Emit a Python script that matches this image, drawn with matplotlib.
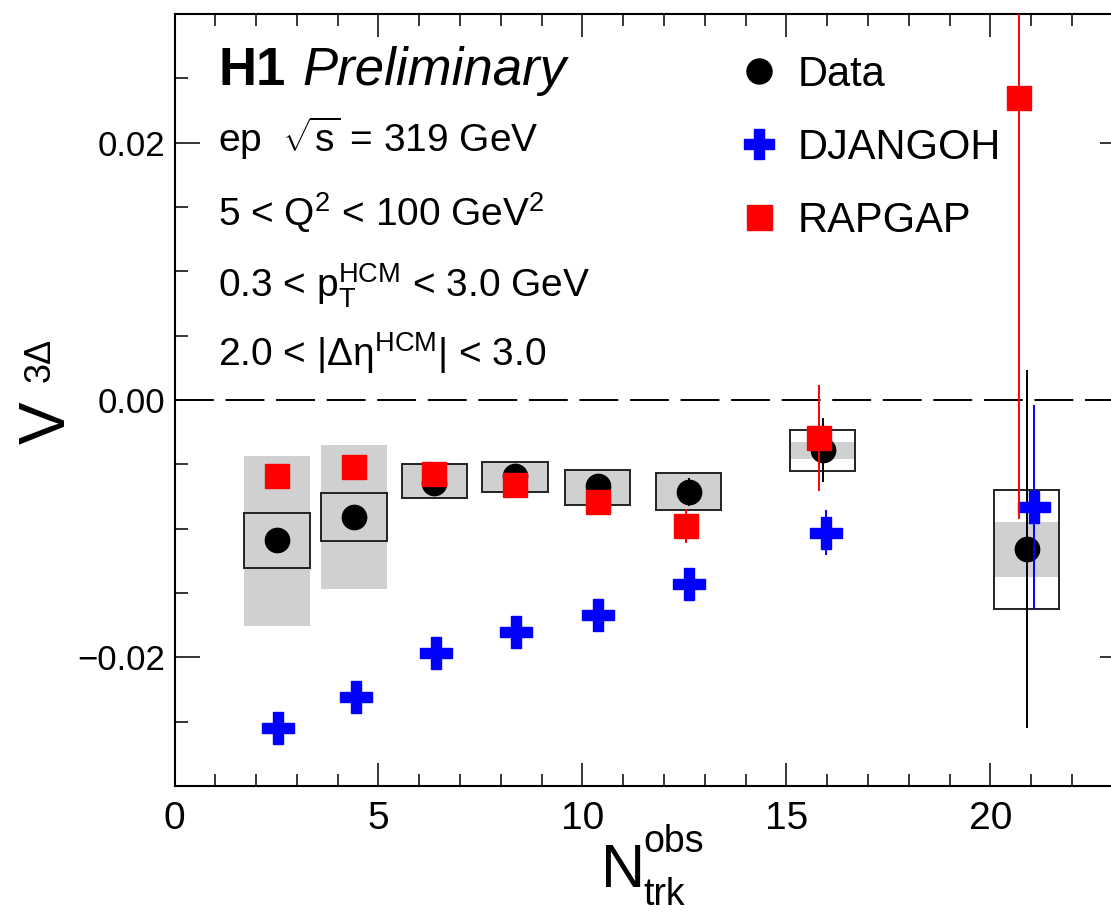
import matplotlib
matplotlib.use("Agg")
import matplotlib.pyplot as plt
from matplotlib.lines import Line2D
from matplotlib.ticker import MultipleLocator, FuncFormatter

plt.rcParams['font.family'] = ['Liberation Sans', 'DejaVu Sans']
plt.rcParams['mathtext.fontset'] = 'custom'
plt.rcParams['mathtext.rm'] = 'Liberation Sans'
plt.rcParams['mathtext.it'] = 'Liberation Sans:italic'
plt.rcParams['mathtext.bf'] = 'Liberation Sans:bold'
plt.rcParams['mathtext.sf'] = 'Liberation Sans'

# ---------------- data ----------------
# H1 data
data_x = [2.51, 4.40, 6.37, 8.35, 10.37, 12.60, 15.89, 20.89]
data_y = [-0.01087, -0.00909, -0.00645, -0.00590, -0.00668, -0.00715, -0.00388, -0.01157]
data_err = [0.0005, 0.0005, 0.0006, 0.0007, 0.0008, 0.0011, 0.0025, 0.0139]
# systematic boxes (open) and grey bands
sys_lo = [-0.01305, -0.01095, -0.00761, -0.00715, -0.00816, -0.00854, -0.00551, -0.01623]
sys_hi = [-0.00878, -0.00722, -0.00497, -0.00482, -0.00544, -0.00567, -0.00233, -0.00699]
band_lo = [-0.01755, -0.01468, -0.00761, -0.00715, -0.00816, -0.00854, -0.00458, -0.01375]
band_hi = [-0.00435, -0.00350, -0.00497, -0.00482, -0.00544, -0.00567, -0.00326, -0.00948]
# DJANGOH
dj_x = [2.54, 4.45, 6.42, 8.38, 10.39, 12.62, 15.96, 21.06]
dj_y = [-0.02548, -0.02307, -0.01965, -0.01802, -0.01670, -0.01429, -0.01033, -0.00831]
dj_err = [0.0004, 0.0004, 0.0005, 0.0005, 0.0006, 0.0007, 0.00175, 0.0079]
# RAPGAP
rg_x = [2.51, 4.40, 6.37, 8.35, 10.37, 12.55, 15.79, 20.70]
rg_y = [-0.00590, -0.00520, -0.00575, -0.00660, -0.00792, -0.00979, -0.00295, 0.02346]
rg_err = [0.0004, 0.0004, 0.0005, 0.0005, 0.0006, 0.0013, 0.0041, 0.0327]

x_range = (0, 23.3)
y_range = (-0.03, 0.03)
labels = ["Data", "DJANGOH", "RAPGAP"]

# ---------------- figure ----------------
W, H = 1111, 916
fig = plt.figure(figsize=(W / 100, H / 100), dpi=100)

def fx(px):
    return px / W

def fy(py):
    return 1 - py / H

ax_l, ax_r, ax_t, ax_b = 174.5, 1125, 14, 786
ax = fig.add_axes([fx(ax_l), fy(ax_b), (ax_r - ax_l) / W, (ax_b - ax_t) / H])
ax.set_xlim(*x_range)
ax.set_ylim(*y_range)

box_w = 1.6
grey = '#d0d0d0'
band_h = [h - l for h, l in zip(band_hi, band_lo)]
sys_h = [h - l for h, l in zip(sys_hi, sys_lo)]
ax.bar(data_x, band_h, bottom=band_lo, width=box_w, color=grey, linewidth=0, zorder=1)
ax.bar(data_x, sys_h, bottom=sys_lo, width=box_w, fill=False, edgecolor='#222222',
       linewidth=1.4, zorder=2)

ax.axhline(0, color='black', lw=1.4, dashes=(20, 6), zorder=1.5)

ax.errorbar(data_x, data_y, yerr=data_err, fmt='o', color='black', ms=17.5,
            elinewidth=1.4, capsize=0, zorder=3)
ax.errorbar(dj_x, dj_y, yerr=dj_err, fmt='P', color='#0000ff', ms=22.5,
            elinewidth=1.4, capsize=0, zorder=4)
ax.errorbar(rg_x, rg_y, yerr=rg_err, fmt='s', color='#ff0000', ms=17.5,
            elinewidth=1.4, capsize=0, zorder=5)

# axes styling
for s in ax.spines.values():
    s.set_linewidth(1.5)
ax.xaxis.set_major_locator(MultipleLocator(5))
ax.xaxis.set_minor_locator(MultipleLocator(1))
ax.yaxis.set_major_locator(MultipleLocator(0.02))
ax.yaxis.set_minor_locator(MultipleLocator(0.005))

def yfmt(v, pos):
    s = f"{v:.2f}"
    if s == "-0.00":
        s = "0.00"
    return s.replace('-', '\u2212')

ax.yaxis.set_major_formatter(FuncFormatter(yfmt))
ax.tick_params(which='both', direction='in', top=True, right=True, width=1.1)
ax.tick_params(axis='x', which='major', length=16.5, pad=11, labelsize=28)
ax.tick_params(axis='x', which='minor', length=8.6)
ax.tick_params(axis='y', which='major', length=18, pad=7, labelsize=25)
ax.tick_params(axis='y', which='minor', length=9.4)

# axis titles (composed as in the original: big letter + scripts)
fig.text(fx(48), fy(423), 'V', fontsize=46, rotation=90, ha='center', va='center')
fig.text(fx(40), fy(360), '3Δ', fontsize=26, rotation=90, ha='center', va='center')

fig.text(fx(601), fy(887), 'N', fontsize=44, va='baseline')
fig.text(fx(643), fy(852), 'obs', fontsize=27, va='baseline')
fig.text(fx(643), fy(905), 'trk', fontsize=27, va='baseline')

# text block
fig.text(fx(218), fy(85), 'H1', fontsize=38, fontweight='bold', va='baseline')
fig.text(fx(302), fy(85), 'Preliminary', fontsize=38, fontstyle='italic', va='baseline')
fig.text(fx(218), fy(152), r'ep  $\sqrt{\mathrm{s}}$ = 319 GeV', fontsize=28, va='baseline')
fig.text(fx(218), fy(226), r'5 < Q$^{2}$ < 100 GeV$^{2}$', fontsize=28, va='baseline')
fig.text(fx(218), fy(297), r'0.3 < $\mathrm{p}_{\mathrm{T}}^{\mathrm{HCM}}$ < 3.0 GeV', fontsize=28, va='baseline')
fig.text(fx(218), fy(366), r'2.0 < |Δη$^{\mathrm{HCM}}$| < 3.0', fontsize=28, va='baseline')

# legend
handles = [
    Line2D([], [], marker='o', ls='none', color='black', ms=18),
    Line2D([], [], marker='P', ls='none', color='#0000ff', ms=22),
    Line2D([], [], marker='s', ls='none', color='#ff0000', ms=18),
]
ax.legend(handles, labels, loc='upper left', bbox_to_anchor=(fx(742), fy(55)),
          bbox_transform=fig.transFigure, frameon=False, fontsize=30,
          handlelength=0.8, handletextpad=0.53, labelspacing=0.79,
          borderpad=0, borderaxespad=0)

fig.savefig('out.png', dpi=100)
